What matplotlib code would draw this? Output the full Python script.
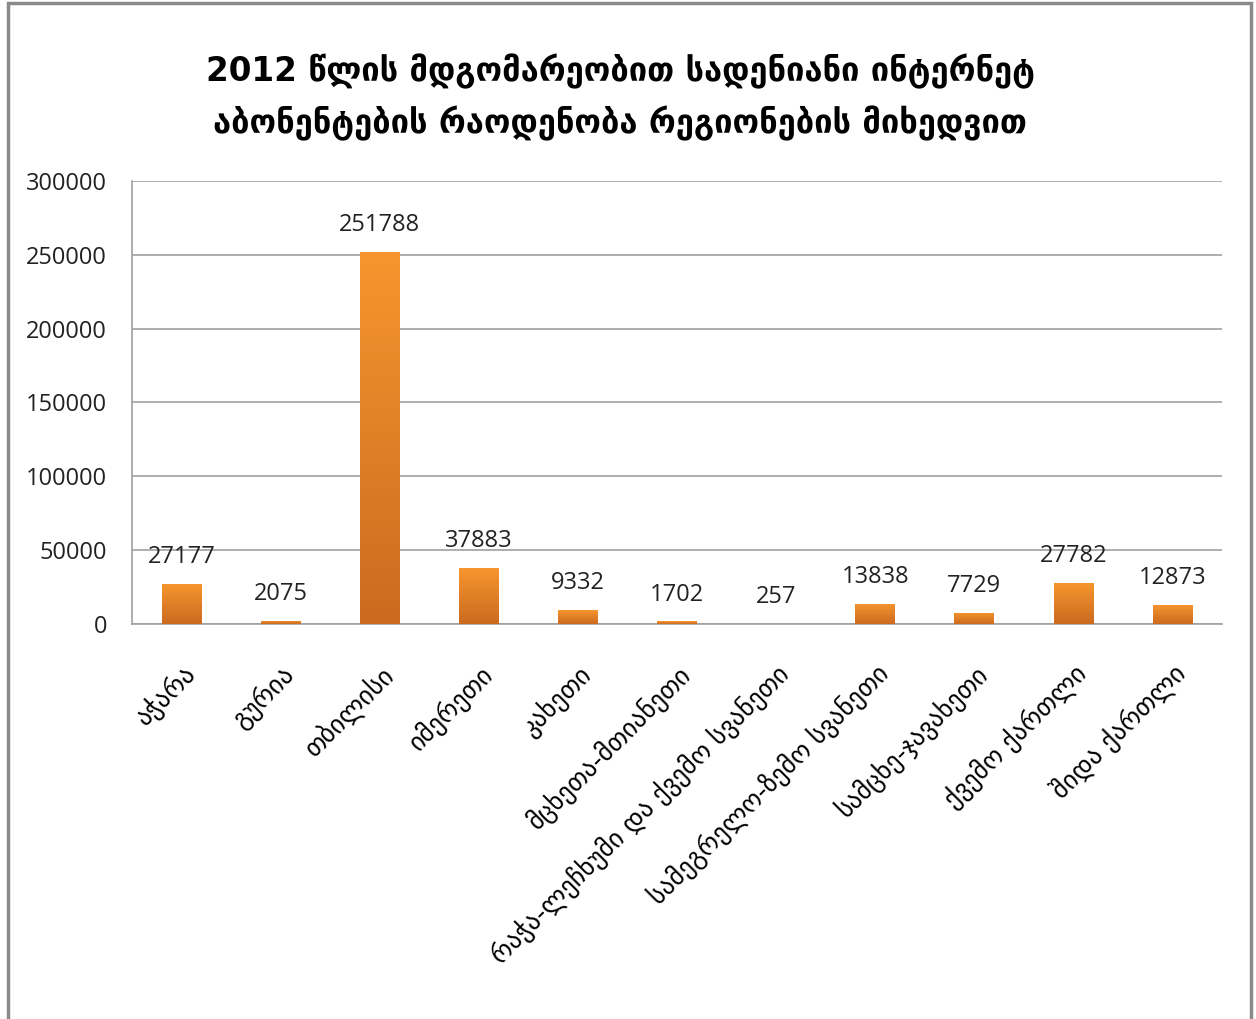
import numpy as np
import matplotlib
matplotlib.use("Agg")
import matplotlib.pyplot as plt
from matplotlib.colors import LinearSegmentedColormap
from matplotlib.patches import Rectangle

regions = ["აჭარა", "გურია", "თბილისი", "იმერეთი", "კახეთი",
           "მცხეთა-მთიანეთი", "რაჭა-ლეჩხუმი და ქვემო სვანეთი",
           "სამეგრელო-ზემო სვანეთი", "სამცხე-ჯავახეთი",
           "ქვემო ქართლი", "შიდა ქართლი"]
subscribers = [27177, 2075, 251788, 37883, 9332, 1702, 257, 13838, 7729, 27782, 12873]
yticks = [0, 50000, 100000, 150000, 200000, 250000, 300000]
title = "2012 წლის მდგომარეობით სადენიანი ინტერნეტ\nაბონენტების რაოდენობა რეგიონების მიხედვით"

W, H = 1256, 1019
fig = plt.figure(figsize=(W / 100, H / 100), dpi=100)
ax = fig.add_axes([132 / W, 1 - 624 / H, (1222 - 132) / W, (624 - 181) / H])

x = np.arange(len(regions))
bars = ax.bar(x, subscribers, width=0.4, color="#E8822A", zorder=2)

# vertical orange gradient on every bar
cmap = LinearSegmentedColormap.from_list("org", ["#CB6A1F", "#F7962E"])
grad = np.linspace(0, 1, 256).reshape(-1, 1)
for b in bars:
    x0, y0 = b.get_x(), b.get_y()
    w, h = b.get_width(), b.get_height()
    im = ax.imshow(grad, cmap=cmap, origin="lower", aspect="auto",
                   extent=[x0, x0 + w, y0, y0 + h], zorder=3)
    im.set_clip_path(b)
    b.set_facecolor("none")

num_font = ["Open Sans", "DejaVu Sans"]
for xi, v in zip(x, subscribers):
    ax.text(xi, v + 10000, str(v), ha="center", va="bottom",
            fontsize=17, family=num_font, color="#222222", zorder=4)

ax.set_xlim(-0.5, len(regions) - 0.5)
ax.set_ylim(0, 300000)
ax.set_yticks(yticks)
ax.set_yticklabels([str(t) for t in yticks], family=num_font, fontsize=17, color="#222222")
ax.yaxis.grid(True, color="#A0A0A0", linewidth=1.2, zorder=0)
ax.set_axisbelow(True)
ax.tick_params(axis="both", length=0)
ax.tick_params(axis="y", pad=18)
ax.set_xticks(x)
ax.set_xticklabels(regions, rotation=45, ha="right", va="top",
                   rotation_mode="anchor", fontsize=18.5, family="DejaVu Sans")
ax.tick_params(axis="x", pad=26)
for s in ["top", "right"]:
    ax.spines[s].set_visible(False)
for s in ["left", "bottom"]:
    ax.spines[s].set_color("#A0A0A0")
    ax.spines[s].set_linewidth(1.2)

fig.text(620 / W, 1 - 97 / H, title, ha="center", va="center",
         fontsize=23.5, fontweight="bold", linespacing=1.6,
         family=["DejaVu Sans Condensed", "DejaVu Sans"], color="black")

# outer chart frame
fig.patches.append(Rectangle((8 / W, -0.05), (1251 - 8) / W, 1.05 - 3 / H,
                             transform=fig.transFigure, fill=False,
                             edgecolor="#8A8A8A", linewidth=2.5))

fig.savefig("out.png", dpi=100)
